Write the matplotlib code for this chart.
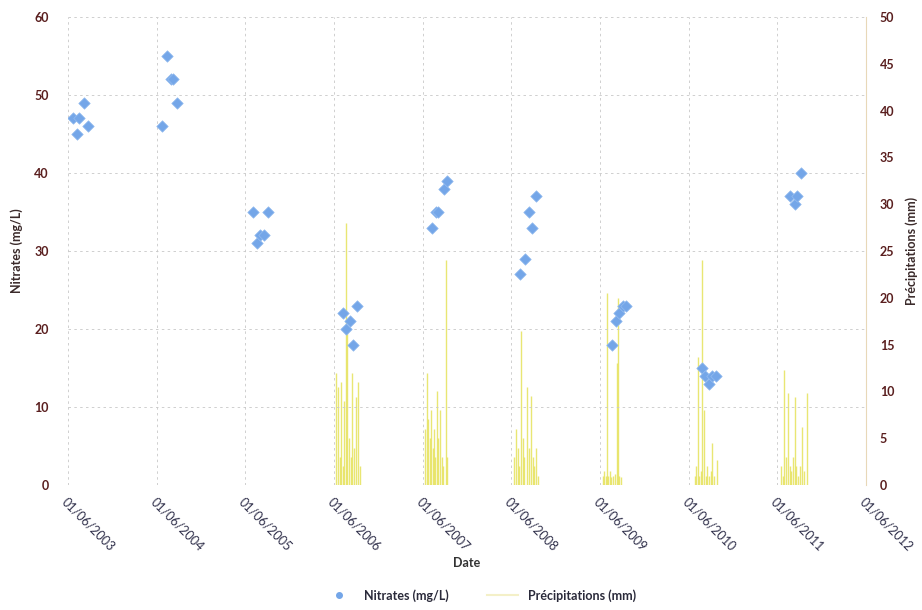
import matplotlib
matplotlib.use("Agg")
import matplotlib.pyplot as plt
import matplotlib.dates as mdates
from matplotlib.lines import Line2D
import numpy as np
import pandas as pd

plt.rcParams["font.family"] = ["Lato", "DejaVu Sans"]

# nitrate samples (mg/L), one summer campaign per year
nitrate_dates = [
    "2003-06-22", "2003-07-08", "2003-07-16", "2003-08-06", "2003-08-22",
    "2004-06-22", "2004-07-12", "2004-07-29", "2004-08-06", "2004-08-22",
    "2005-07-02", "2005-07-19", "2005-07-31", "2005-08-17", "2005-09-02",
    "2006-07-08", "2006-07-20", "2006-08-06", "2006-08-18", "2006-09-04",
    "2007-07-09", "2007-07-25", "2007-08-02", "2007-08-27", "2007-09-08",
    "2008-07-06", "2008-07-27", "2008-08-12", "2008-08-24", "2008-09-10",
    "2009-07-20", "2009-08-05", "2009-08-17", "2009-09-03", "2009-09-15",
    "2010-07-25", "2010-08-06", "2010-08-23", "2010-09-04", "2010-09-20",
    "2011-07-22", "2011-08-12", "2011-08-20", "2011-09-05",
]
nitrate_values = [
    47, 45, 47, 49, 46,
    46, 55, 52, 52, 49,
    35, 31, 32, 32, 35,
    22, 20, 21, 18, 23,
    33, 35, 35, 38, 39,
    27, 29, 35, 33, 37,
    18, 21, 22, 23, 23,
    15, 14, 13, 14, 14,
    37, 36, 37, 40,
]

# daily rainfall (mm) during the sampling seasons
precip_dates = [
    "2006-06-09", "2006-06-17", "2006-06-24", "2006-07-01", "2006-07-08",
    "2006-07-14", "2006-07-20", "2006-07-26", "2006-08-02", "2006-08-09",
    "2006-08-16", "2006-08-24", "2006-09-01", "2006-09-08", "2006-09-14",
    "2007-06-10", "2007-06-18", "2007-06-24", "2007-06-30", "2007-07-06",
    "2007-07-12", "2007-07-18", "2007-07-24", "2007-07-29", "2007-08-04",
    "2007-08-10", "2007-08-18", "2007-08-26", "2007-09-04", "2007-09-10",
    "2008-06-12", "2008-06-20", "2008-06-27", "2008-07-03", "2008-07-10",
    "2008-07-17", "2008-07-24", "2008-08-04", "2008-08-11", "2008-08-20",
    "2008-08-27", "2008-09-03", "2008-09-10", "2008-09-18",
    "2009-06-12", "2009-06-18", "2009-06-24", "2009-06-29", "2009-07-05",
    "2009-07-11", "2009-07-18", "2009-07-25", "2009-08-01", "2009-08-08",
    "2009-08-13", "2009-08-20", "2009-08-28",
    "2010-06-26", "2010-07-01", "2010-07-08", "2010-07-14", "2010-07-20",
    "2010-07-28", "2010-08-03", "2010-08-10", "2010-08-17", "2010-08-24",
    "2010-08-31", "2010-09-04", "2010-09-12", "2010-09-24",
    "2011-06-18", "2011-06-24", "2011-07-01", "2011-07-08", "2011-07-14",
    "2011-07-22", "2011-07-29", "2011-08-05", "2011-08-12", "2011-08-19",
    "2011-08-26", "2011-09-03", "2011-09-10", "2011-09-18", "2011-09-30",
]
precip_values = [
    12, 10.5, 3, 11, 2, 9, 28, 17, 5, 3, 12, 4, 9.4, 11, 2,
    6, 12, 7, 5, 8, 4, 6, 3, 10, 5, 8, 3, 2, 24, 3,
    3, 6, 4, 2, 16.5, 5, 3, 10.5, 4, 9.5, 3, 2, 4, 1,
    1, 1.5, 1, 20.5, 1, 1.5, 0.8, 1, 1.2, 13, 20, 1, 0.8,
    1, 2, 13.7, 1, 1.5, 24, 8, 1, 2, 1, 1.5, 4.5, 1, 2.7,
    2, 1, 12.3, 3, 9.8, 2, 1.5, 3, 9.4, 2, 1, 2, 6.2, 1.5, 9.8,
]

tick_years = list(range(2003, 2013))

nit_x = pd.to_datetime(nitrate_dates)
pr_x = pd.to_datetime(precip_dates)
ticks = pd.to_datetime(["%d-06-01" % y for y in tick_years])

fig = plt.figure(figsize=(9.22, 6.10), dpi=100)
ax1 = fig.add_axes([0.0738, 0.205, 0.8655, 0.767])
ax2 = ax1.twinx()

bar_col = "#e6e25a"
dot_col = "#74a6e8"
num_col = "#5a1f1f"

ax2.vlines(pr_x, 0, precip_values, color=bar_col, linewidth=1.0, alpha=0.85)
ax1.scatter(nit_x, nitrate_values, marker="D", s=34, color=dot_col,
            edgecolors="#93bbef", linewidths=0.5, zorder=3)

ax1.set_zorder(ax2.get_zorder() + 1)
ax1.patch.set_visible(False)

ax1.set_xlim(ticks[0], ticks[-1])
ax1.set_ylim(0, 60)
ax2.set_ylim(0, 50)
ax1.set_yticks(np.arange(0, 61, 10))
ax2.set_yticks(np.arange(0, 51, 5))
ax1.set_xticks(ticks)
ax1.xaxis.set_major_formatter(mdates.DateFormatter("%d/%m/%Y"))

for lab in ax1.get_xticklabels():
    lab.set_rotation(-45)
    lab.set_ha("left")
    lab.set_va("top")
    lab.set_rotation_mode("anchor")
    lab.set_color("#2f2f4a")
    lab.set_fontsize(9)

ax1.tick_params(axis="x", length=0, pad=8)
ax1.tick_params(axis="y", length=0, pad=14, labelsize=9, labelcolor=num_col)
ax2.tick_params(axis="y", length=0, pad=10, labelsize=9, labelcolor=num_col)
for lab in ax1.get_yticklabels() + ax2.get_yticklabels():
    lab.set_fontweight("bold")

ax1.grid(True, color="#c8c8c8", linestyle=(0, (3, 4)), linewidth=0.6)

for sp in ["top", "left", "bottom"]:
    ax1.spines[sp].set_visible(False)
    ax2.spines[sp].set_visible(False)
ax1.spines["right"].set_visible(False)
ax2.spines["right"].set_color("#e8d8b8")
ax2.spines["right"].set_linewidth(0.8)

ax1.set_ylabel("Nitrates (mg/L)", fontsize=9, fontweight="bold",
               color="#3a2a2a", labelpad=8)
ax2.set_ylabel("Précipitations (mm)", fontsize=9, fontweight="bold",
               color="#3a2a2a", labelpad=8)
ax1.set_xlabel("Date", fontsize=9, fontweight="bold", color="#333333")
ax1.xaxis.set_label_coords(0.5, -0.155)

handles = [
    Line2D([], [], marker="o", linestyle="none", markersize=4,
           color=dot_col, label="Nitrates (mg/L)"),
    Line2D([], [], color="#f4f0c8", linewidth=1.5,
           label="Précipitations (mm)"),
]
fig.legend(handles=handles, loc="lower center", ncol=2, frameon=False,
           fontsize=9, bbox_to_anchor=(0.52, -0.005), columnspacing=3,
           handlelength=2.5, labelcolor="#2a2a3a",
           prop={"weight": "bold", "size": 9})

fig.savefig("out.png", dpi=100)
